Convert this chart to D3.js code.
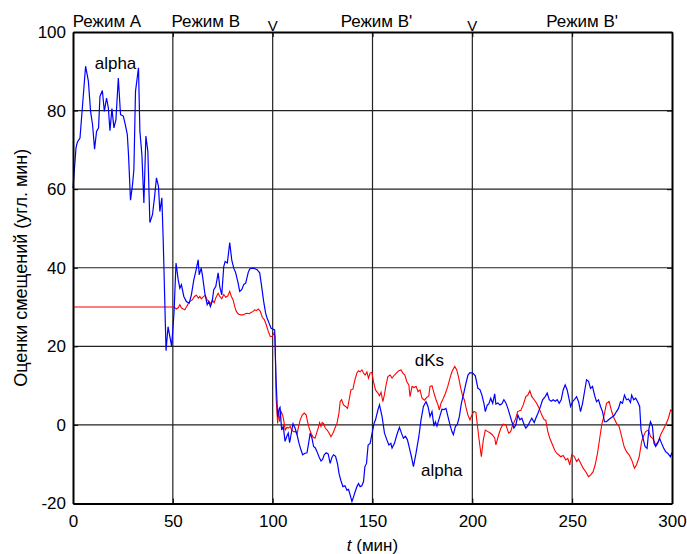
<!DOCTYPE html>
<html>
<head>
<meta charset="utf-8">
<script src="https://cdn.jsdelivr.net/npm/d3@7"></script>
<style>
  body { margin: 0; background: #fff; }
  svg text { font-family: "Liberation Sans", Arial, sans-serif; fill: #000; }
</style>
</head>
<body>
<div id="canvas"></div>
<script>
// axis ticks
var xTicks = [0, 50, 100, 150, 200, 250, 300];
var yTicks = [-20, 0, 20, 40, 60, 80, 100];

// regime labels above the plot
var regimeNames = ['Режим A', 'Режим B', 'Режим B\'', 'Режим B\''];
var regimeCenters = [17, 66.5, 152, 255];
var switchMarks = [100, 200];

// alpha (blue)
var alphaT = [0,1.5,2.2,3.5,4.8,6.3,7.7,8.8,9.8,10.8,11.8,12.8,13.5,14.7,15.7,16.8,17.7,18.5,19.5,20.5,21.5,22.7,23.8,25.2,26.2,27.2,27.8,28.8,29.8,30.5,31.3,32.8,33.5,34.5,35.5,36.5,37.5,38.5,39.8,40.8,41.8,42.8,43.5,44.5,45.2,45.8,46.6,47.6,49.4,50.6,51.6,52.7,53.5,54.3,55.5,56.8,58.2,59.3,60.5,61.5,62.7,63.2,64.2,64.8,66,67.2,68,68.8,69.7,70.5,71.5,72.7,73.5,74.5,75.5,76.2,77.3,78.5,79.5,80.5,81.5,82.7,83.5,84.5,85.5,86.5,87.7,88.5,89.8,91,92.2,93.5,94.5,95.5,96.5,97.2,98.2,99.2,101,101.7,102.5,103.3,103.7,104.5,105.3,106.2,107,107.8,108.5,109.2,110.2,111.2,112.2,113.2,114.2,115,116.2,117.2,118,118.8,119.7,120.5,121.3,122.2,123.2,124.2,125,125.8,126.8,127.8,128.8,129.7,130.5,131.5,132.5,133.3,134.2,135.2,136.2,137.2,138,138.8,139.7,140.5,141.3,142.2,143,143.8,144.7,145.5,146.2,147,147.8,148.8,149.8,150.8,151.5,152.7,153.5,154.8,156,157.2,158.2,159.2,159.8,161,162.2,163.5,164.5,165.5,166.5,167.5,168.5,169.5,170.5,171.8,173.2,174.3,175.5,176.8,177.8,178.8,179.8,180.8,181.5,182.3,183.2,184.2,184.8,185.8,186.8,187.8,188.8,189.8,190.5,191.5,192.5,193.5,194.5,195.5,196.8,197.8,198.8,200.2,201.5,202.8,203.8,204.8,205.8,206.5,207.5,208.2,209.2,210.2,211.2,211.8,212.8,213.8,214.8,215.8,216.8,217.8,218.8,219.8,220.8,221.8,222.8,223.8,224.8,226,226.8,227.8,228.8,229.8,231,231.8,232.8,233.8,235.2,236.5,237.5,238.5,239.5,240.5,241.5,242.5,243.5,244.5,245.5,246.5,247.5,248.2,249.2,250.2,251.2,252.2,253.2,254.2,255.2,256.2,257.2,258.2,259.2,260.2,261.2,262.2,263.2,264.2,265.2,266.2,267.2,268.2,269.2,270.2,271.2,272.2,273.2,274.2,275.2,276.2,277.2,278.2,279.2,279.8,280.8,281.8,282.8,283.8,284.5,285.5,286.5,287.5,288.5,289.2,290.2,291,291.8,292.8,293.8,294.8,295.8,296.8,297.8,299.2,300];
var alphaV = [60.3,70.5,72,73,81.5,91.3,87.5,79.8,76.4,70.2,74.7,75.6,83.6,85.1,79.8,83.2,80.7,74.9,80.5,75.6,77.7,88.3,79,78.6,76.4,73.9,68.8,57.2,61.1,65,84.9,90.9,74.7,68.8,56.5,73.5,69.6,51.5,53.5,57.8,62.9,60.7,54.3,57.8,46.7,34.8,18.9,25,20,28.6,41.2,36.9,34.8,35.7,32.7,31.4,31,33.1,36.9,39.1,42,38.2,39.9,38.2,33.6,30.6,31.4,30.1,31.4,34.4,35.2,38.7,35.2,33.1,40.3,41.6,41.2,46.4,42,39.9,38.7,36.1,34,34.4,35.7,36.1,38.7,39.7,39.9,39.8,39.5,38.7,35.2,31.4,28.4,27.2,25.9,24.6,24.2,11.5,2.1,4.2,4.5,-1.3,-0.4,-4.2,-3,-2.1,-4.5,-2.5,0.3,-0.8,-2.5,-4.7,-6.4,-7.6,-7.2,-7.1,-4.7,-2.1,-3.4,-5.5,-5.8,-6.8,-8.1,-9.2,-8.8,-7.6,-7.1,-7.4,-9.8,-8.2,-7.6,-8,-9.9,-12.5,-14.2,-15.7,-15.5,-16.6,-16.4,-17.8,-19.5,-18.3,-17,-15.7,-14.9,-15.7,-15.5,-14.4,-10.6,-9.8,-5.1,-4.7,-2.1,0.4,1.3,3.8,5.1,2.1,-2.1,-3.8,-5.1,-4.7,-5.9,-4.7,-2.5,-0.6,-2.1,-3.4,-2.9,-3.8,-5.9,-8.1,-10.6,-7.2,-3,1.3,4.7,5.9,4.7,2.1,3.4,-0.3,0.8,-0.3,1.3,3,4,3.9,4.2,2.1,0,-1.7,-2.5,-0.4,0.2,2.1,5.5,7.6,10.6,12.7,13.3,13.2,12.5,9.3,9,7.6,5.5,3.4,5.1,5.3,6.8,5.5,7.9,5.3,5.6,5.1,5.4,6.4,5.6,4.2,2.5,0.8,-0.8,0,2.5,1.3,1.7,0,-0.8,-0.2,0.8,1.7,0.6,1.7,2.9,4.2,6.4,7.2,8.1,6.4,6,6.4,6,6.4,5.5,6.4,8.9,10.2,8.9,7.2,4.7,5.9,6.5,7.2,5.9,3.4,5.5,8.5,11.5,11.1,9.3,9.8,7.6,5.9,6.4,4.7,3.4,0.8,0.8,1.3,1.7,2.1,2.5,3.4,4.2,5.9,5.5,7.6,6.4,6.6,5.7,7.6,6.4,6.8,5.9,4.7,-1.3,-3.4,-5.5,-6,-0.8,0.8,-0.4,-4.7,-5.5,-4.7,-3.4,-4.7,-5.9,-6.8,-7.2,-8.1,-7];

// dKs (red)
var dksT = [0,50.5,51.8,52.7,53.5,54.3,55.2,56,56.8,57.7,58.5,59.7,60.8,61.8,62.8,63.5,64.3,65.2,66.2,67.2,68.2,69,69.8,70.7,71.5,72.7,73.5,74.5,75.5,76.5,77.5,78.5,79.3,80.2,81,81.8,82.7,83.8,85.2,86.2,87.2,88.2,89.2,90.2,91,91.8,92.8,93.8,94.8,95.8,96.8,97.8,98.8,99.7,100.7,101.2,101.7,102.5,103,103.5,104.2,105,105.5,106.3,107.2,107.8,108.8,109.5,110.5,111.5,112.2,112.8,113.8,114.8,115.8,116.8,117.5,118.3,119.2,120.2,121.2,122,122.8,123.5,124.2,124.8,125.7,126.3,127.3,128.3,129.2,130.2,131.2,132.2,133.2,133.8,134.5,135.5,136.5,137.5,138.3,139.2,140.2,141.2,142.2,143,143.8,144.7,145.5,146.3,147.2,148,148.8,149.7,150.5,151.5,152.7,153.5,154.3,155.2,156,156.8,157.7,158.8,159.8,161,162.2,163.2,164.3,165.2,166.2,167.2,168.2,168.8,169.8,170.8,171.8,172.8,173.8,174.8,176,177.2,178.2,178.8,179.8,180.8,181.8,182.8,183.5,184.3,185.5,186.5,187.7,188.8,189.8,191.2,192.2,193.2,194.2,195.2,196,196.8,197.8,198.8,199.8,200.8,201.8,203.2,204.5,205.5,206.5,207.8,208.8,210,211.2,211.8,213.2,214.3,215.5,216.8,218.2,219.2,220.2,221.5,222.7,224.3,225.5,226.8,227.8,228.8,229.8,231,232.2,233.5,234.8,236,236.8,237.8,238.8,240.2,241.2,242.2,243.2,244.3,245.5,246.8,247.8,248.8,249.8,251,252.2,253.2,254.3,255.5,256.8,258.2,259.3,260.5,261.5,262.7,263.8,264.8,266,267.2,268.5,269.8,271,272.2,273.5,274.8,276,277.2,278.5,279.8,281.2,282.2,283.5,284.8,286,286.8,288.2,289.3,290.5,291.8,293.2,294.3,295.5,296.8,298.2,299.3,300];
var dksV = [30,30,29.5,29.8,30.6,29.8,29.5,29.3,30,30.8,31.4,31.8,32.7,33,32.3,32.7,32.1,32.6,33,31.8,31.4,30.8,31.8,31.1,32.3,33.5,32.7,32.1,33.2,32.5,32.8,34,32.7,31.8,30.1,28.9,28.3,28,28,28.3,28.4,28.3,28.6,28.9,29.3,29.1,29.5,28.9,27.4,26.8,25.5,23.8,22.5,22.5,23.4,22.5,7.2,0.4,3.8,0.8,3.4,2.5,1.3,-1.3,-0.6,-0.8,-0.4,-1.3,-1.7,-1.7,-2.3,-0.8,1.3,2.5,3,2.5,0.8,-0.8,-2.1,-3.1,-3.4,-2.1,-0.8,0.6,-0.4,0.6,0.2,-0.8,-1.3,-2.1,-3,-2.1,-0.8,0.4,3,5.9,6.4,5.1,4.7,4.2,6.4,8.9,9.1,11.5,13.2,13.8,13.5,14,13.2,12.7,13.5,11.9,13.2,13.4,11,8.9,8.1,7.4,8.3,5.9,7.8,10.2,12.3,12.7,11.9,12.7,13.3,13.8,14,13.2,12.7,11,10.2,7.2,9.8,9.5,9.8,8.5,8.9,6.8,6.3,7,7.4,9.8,10,8.1,6.4,5.1,3.8,5.5,6.8,8,9.8,11.9,13.6,14.9,14,11.9,9.3,7.2,6.4,4.5,2.5,1.3,2.5,3.4,3.2,-3,-8.1,-3.8,-1.3,-1.7,-2,-2.5,-3.3,-5.1,-2.5,-0.8,0.2,0,-2.1,-1.7,0,1.3,3.4,3.7,5.1,7.2,7.6,8.7,7.2,6.4,5.5,4.2,2.5,1.3,1.2,-1.7,-3.4,-5.1,-6.4,-7.2,-7.6,-8.1,-7.8,-8.9,-8.5,-10.2,-7.6,-8,-9.3,-8.7,-9.8,-11,-11.9,-13.2,-12.7,-11.9,-10.2,-7.2,-3.4,0,2.5,5.5,6,3.4,1.7,0.4,-0.4,-3,-5.5,-6.8,-7.6,-8.9,-11,-10.2,-8.3,-4.2,-2.5,-1.7,-1.3,-3,-3.5,-5.1,-4.2,-2.5,-1.3,0,1.7,3.8,3.5];

// series labels drawn on the plot
var seriesLabels = [
  {text: 'alpha', t: 21.3, v: 90.5},
  {text: 'dKs', t: 178.5, v: 15},
  {text: 'alpha', t: 184.7, v: -13}
];

var W = 687, H = 554;
var margin = {left: 73, top: 32, right: 15, bottom: 50.5};
var pw = W - margin.left - margin.right;
var ph = H - margin.top - margin.bottom;

var svg = d3.select('#canvas').append('svg')
  .attr('width', W)
  .attr('height', H);

var x = d3.scaleLinear().domain([0, 300]).range([margin.left, margin.left + pw]);
var y = d3.scaleLinear().domain([-20, 100]).range([margin.top + ph, margin.top]);

// grid
var grid = svg.append('g').attr('class', 'grid');
grid.selectAll('line.gx').data(xTicks.slice(1, -1)).enter()
  .append('line').attr('class', 'gx')
  .attr('x1', function(d){ return x(d); }).attr('x2', function(d){ return x(d); })
  .attr('y1', y(-20)).attr('y2', y(100))
  .attr('stroke', '#222').attr('stroke-width', 1.2);
grid.selectAll('line.gy').data(yTicks.slice(1, -1)).enter()
  .append('line').attr('class', 'gy')
  .attr('y1', function(d){ return y(d); }).attr('y2', function(d){ return y(d); })
  .attr('x1', x(0)).attr('x2', x(300))
  .attr('stroke', '#222').attr('stroke-width', 1.2);

// data lines
var line = d3.line()
  .x(function(d){ return x(d[0]); })
  .y(function(d){ return y(d[1]); });

svg.append('path')
  .datum(d3.zip(dksT, dksV))
  .attr('d', line)
  .attr('fill', 'none')
  .attr('stroke', '#ff0000')
  .attr('stroke-width', 1.1);

svg.append('path')
  .datum(d3.zip(alphaT, alphaV))
  .attr('d', line)
  .attr('fill', 'none')
  .attr('stroke', '#0000ff')
  .attr('stroke-width', 1.2);

// axes (ticks pointing inward, MATLAB box style)
var plain = function(d){ return String(d); };
svg.append('g')
  .attr('transform', 'translate(0,' + y(-20) + ')')
  .call(d3.axisBottom(x).tickValues(xTicks).tickFormat(plain).tickSizeInner(-5).tickSizeOuter(0).tickPadding(11));
svg.append('g')
  .attr('transform', 'translate(' + x(0) + ',0)')
  .call(d3.axisLeft(y).tickValues(yTicks).tickFormat(plain).tickSizeInner(-5).tickSizeOuter(0).tickPadding(7));
svg.append('g')
  .attr('transform', 'translate(0,' + y(100) + ')')
  .call(d3.axisTop(x).tickValues(xTicks).tickSizeInner(-5).tickSizeOuter(0).tickFormat(''));
svg.append('g')
  .attr('transform', 'translate(' + x(300) + ',0)')
  .call(d3.axisRight(y).tickValues(yTicks).tickSizeInner(-5).tickSizeOuter(0).tickFormat(''));

svg.selectAll('.domain').attr('stroke', '#000').attr('stroke-width', 2);
svg.selectAll('.tick line').attr('stroke', '#000');
svg.selectAll('.tick text').style('font-size', '17px').style('font-family', '"Liberation Sans", Arial, sans-serif');

// axis titles
svg.append('text')
  .attr('transform', 'translate(27,' + (margin.top + ph / 2) + ') rotate(-90)')
  .attr('text-anchor', 'middle')
  .style('font-size', '18px')
  .text('Оценки смещений (угл. мин)');

var xl = svg.append('text')
  .attr('x', x(150))
  .attr('y', 551)
  .attr('text-anchor', 'middle')
  .style('font-size', '17px');
xl.append('tspan').style('font-style', 'italic').text('t');
xl.append('tspan').text(' (мин)');

// regime labels
svg.selectAll('text.regime').data(regimeNames).enter()
  .append('text').attr('class', 'regime')
  .attr('x', function(d, i){ return x(regimeCenters[i]); })
  .attr('y', 27)
  .attr('text-anchor', 'middle')
  .style('font-size', '17px')
  .text(function(d){ return d; });

svg.selectAll('text.mark').data(switchMarks).enter()
  .append('text').attr('class', 'mark')
  .attr('x', function(d){ return x(d); })
  .attr('y', 31)
  .attr('text-anchor', 'middle')
  .style('font-size', '15px')
  .text('V');

// series labels
svg.selectAll('text.slabel').data(seriesLabels).enter()
  .append('text').attr('class', 'slabel')
  .attr('x', function(d){ return x(d.t); })
  .attr('y', function(d){ return y(d.v); })
  .attr('text-anchor', 'middle')
  .style('font-size', '17px')
  .text(function(d){ return d.text; });
</script>
</body>
</html>
